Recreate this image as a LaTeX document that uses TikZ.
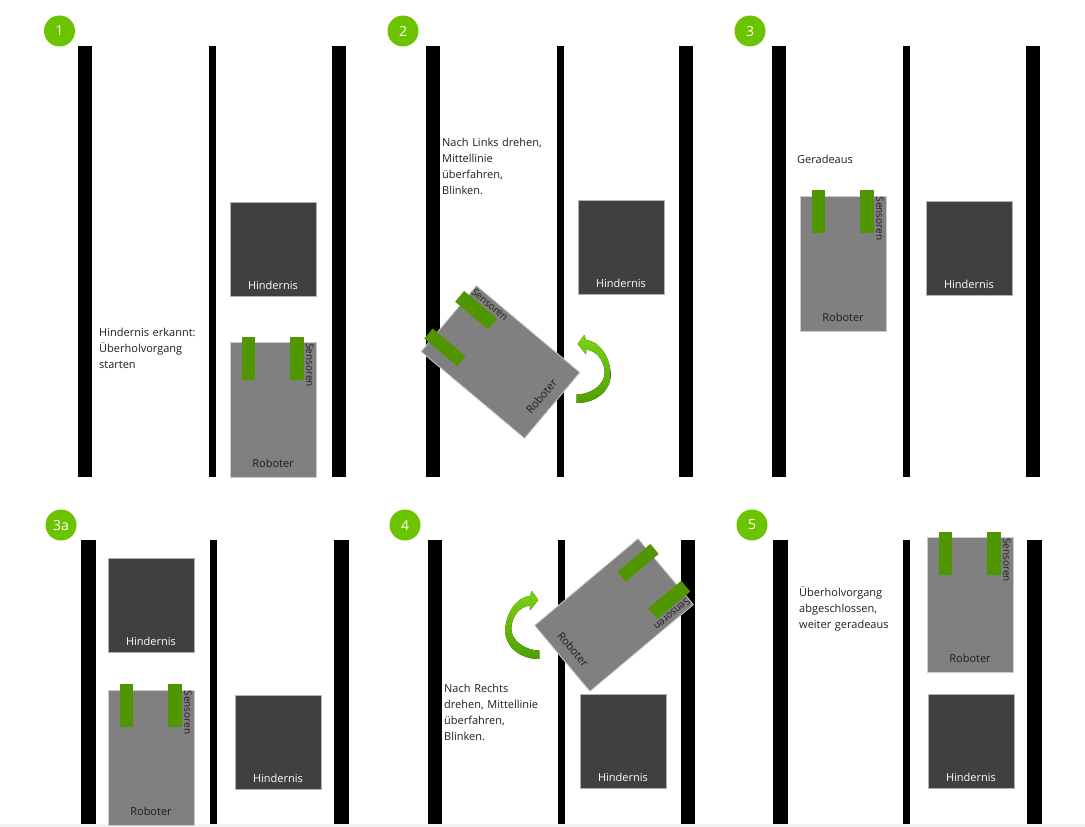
\documentclass[tikz,border=0pt]{standalone}
\usepackage{fontspec}
\setmainfont{Open Sans}
\definecolor{badgegreen}{RGB}{108,196,0}
\definecolor{sensorgreen}{RGB}{80,150,0}
\definecolor{obst}{RGB}{64,64,64}
\definecolor{robo}{RGB}{128,128,128}
\definecolor{txt}{RGB}{30,30,30}
\definecolor{arrowlight}{RGB}{122,212,16}
\definecolor{arrowdark}{RGB}{78,160,0}
\definecolor{strip}{RGB}{242,242,242}
\tikzset{
  lane/.style={fill=black, draw=none},
  badge/.style={circle, fill=badgegreen, minimum size=31pt, inner sep=0pt, text=white, font=\fontsize{14}{16}\selectfont},
  obstacle/.style={fill=obst, draw=gray!60, line width=0.8pt},
  robotbody/.style={fill=robo, draw=gray!40, line width=0.8pt},
  sensorbar/.style={fill=sensorgreen, draw=none},
  blocklabel/.style={font=\fontsize{11}{13}\selectfont, text=white, anchor=base, inner sep=0pt},
  robotlabel/.style={font=\fontsize{11}{13}\selectfont, text=txt, anchor=base, inner sep=0pt},
  sensorlabel/.style={font=\fontsize{10}{12}\selectfont, text=txt, inner sep=0pt},
  note/.style={font=\fontsize{11}{16}\selectfont, text=txt, anchor=base west, inner sep=0pt, text width=160pt, align=left},
  turnarrow/.style={top color=arrowlight, bottom color=arrowdark, draw=none},
}
\newcommand\hind[3]{% name, x1, y1  (box 86 x 94)
  \filldraw[obstacle] (#2,#3) rectangle ({#2+86},{#3+94});
  \node[blocklabel] (#1) at ({#2+43},{#3+87}) {Hindernis};
}
\newcommand\robotat[4]{% name, cx, cy, angle
  \begin{scope}[shift={(#2,#3)}, rotate=#4, transform shape]
    \filldraw[robotbody] (-43,-67.5) rectangle (43,67.5);
    \fill[sensorbar] (-31,-73.5) rectangle (-18,-30.5);
    \fill[sensorbar] (17,-73.5) rectangle (31,-30.5);
    \node[sensorlabel, rotate=-90, anchor=west] (#1s) at (37,-67) {Sensoren};
    \node[robotlabel] (#1r) at (0,57.5) {Roboter};
  \end{scope}
}
\newcommand\turnpath{%
  (-1,59) .. controls (18,59) and (33,47) .. (33,31)
  .. controls (33,13) and (21,-3) .. (8.5,-4)
  -- (6.5,-9) -- (0,0) -- (8.5,10.5) -- (8.5,5.5)
  .. controls (18,6.5) and (27,16) .. (27,29)
  .. controls (27,40) and (14,50.5) .. (-1,50.5) -- cycle}
\begin{document}
\begin{tikzpicture}[x=1pt, y=-1pt]
\useasboundingbox (0,0) rectangle (1085,827);
\fill[white] (0,0) rectangle (1085,827);
\fill[strip] (0,824) rectangle (1085,827);

% ---------- top row lanes ----------
\fill[lane] (78,46) rectangle (92,477);
\fill[lane] (209,46) rectangle (215.5,477);
\fill[lane] (332,46) rectangle (346,477);
\fill[lane] (426,46) rectangle (440,477);
\fill[lane] (557,46) rectangle (563.5,477);
\fill[lane] (679,46) rectangle (693,477);
\fill[lane] (772,46) rectangle (786,477);
\fill[lane] (903,46) rectangle (909.5,477);
\fill[lane] (1026,46) rectangle (1040,477);

% ---------- bottom row lanes ----------
\fill[lane] (81,540) rectangle (96,824);
\fill[lane] (210,540) rectangle (216.5,824);
\fill[lane] (334,540) rectangle (349,824);
\fill[lane] (428,540) rectangle (442,824);
\fill[lane] (558,540) rectangle (565,824);
\fill[lane] (681,540) rectangle (695,824);
\fill[lane] (773,540) rectangle (788,824);
\fill[lane] (903,540) rectangle (909.5,824);
\fill[lane] (1027,540) rectangle (1042,824);

% ---------- badges ----------
\node[badge] (b1) at (59.5,31) {1};
\node[badge] (b2) at (403,31) {2};
\node[badge] (b3) at (750,31) {3};
\node[badge] (b3a) at (61,525) {3a};
\node[badge] (b4) at (405,525) {4};
\node[badge] (b5) at (752,525) {5};

% ---------- panel 1 ----------
\hind{h1}{230}{202}
\robotat{r1}{273}{410}{0}
\node[note] (n1) at (99,336) {Hindernis erkannt:\\Überholvorgang\\starten};

% ---------- panel 2 ----------
\hind{h2}{578}{200.5}
\robotat{r2}{500.5}{362}{50}
\fill[turnarrow, shift={(577.7,344)}] \turnpath;
\node[note] (n2) at (442,146) {Nach Links drehen,\\Mittellinie\\überfahren,\\Blinken.};

% ---------- panel 3 ----------
\hind{h3}{926}{201.5}
\robotat{r3}{843}{263.5}{0}
\node[note] (n3) at (797,163) {Geradeaus};

% ---------- panel 3a ----------
\hind{h3a1}{108}{558}
\hind{h3a2}{235}{695.5}
\robotat{r3a}{151}{757.5}{0}

% ---------- panel 4 ----------
\hind{h4}{580}{694}
\robotat{r4}{614}{615}{-50}
\fill[turnarrow, shift={(538.3,600)}, xscale=-1] \turnpath;
\node[note] (n4) at (444,692) {Nach Rechts\\drehen, Mittellinie\\überfahren,\\Blinken.};

% ---------- panel 5 ----------
\hind{h5}{928}{694}
\robotat{r5}{970}{605}{0}
\node[note] (n5) at (799,596) {Überholvorgang\\abgeschlossen,\\weiter geradeaus};
\end{tikzpicture}
\end{document}
